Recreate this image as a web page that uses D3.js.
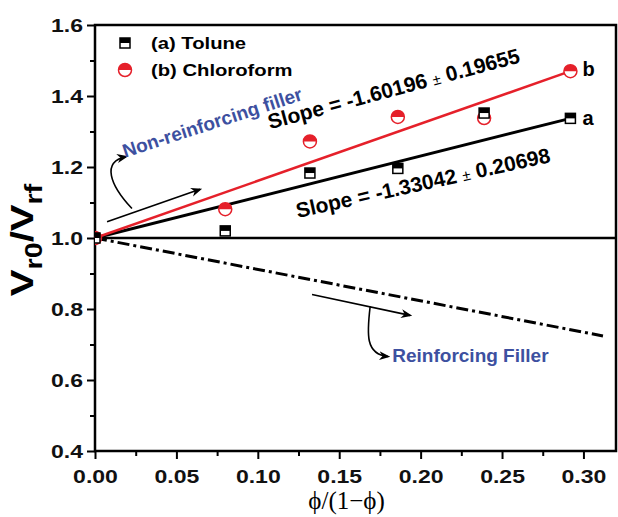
<!DOCTYPE html>
<html lang="en">
<head>
<meta charset="UTF-8">
<title>Vr0/Vrf vs phi/(1-phi)</title>
<script src="https://cdnjs.cloudflare.com/ajax/libs/d3/7.8.5/d3.min.js"></script>
<style>
    body { margin: 0; background: #fff; }
    svg { display: block; }
    .tick line { stroke: #000; stroke-width: 2px; }
</style>
</head>
<body>
<div id="chart"></div>
<script>
    // measured values
    const phi = [0, 0.080, 0.132, 0.186, 0.239, 0.292];
    const toluneRatio = [1.0, 1.02, 1.183, 1.196, 1.352, 1.337];
    const chloroformRatio = [1.0, 1.081, 1.272, 1.341, 1.338, 1.47];
    const fitPhi = [0, 0.292];
    const fitTolune = [1.0, 1.337];
    const fitChloroform = [1.0, 1.47];
    const refPhi = [0, 0.312];
    const refRatio = [1.0, 0.724];
    const xMajor = [0, 0.05, 0.10, 0.15, 0.20, 0.25, 0.30];
    const xMinor = [0.025, 0.075, 0.125, 0.175, 0.225, 0.275];
    const yMajor = [0.4, 0.6, 0.8, 1.0, 1.2, 1.4, 1.6];
    const yMinor = [0.5, 0.7, 0.9, 1.1, 1.3, 1.5];

    const W = 618, H = 517;
    const margin = { top: 25, right: 2, bottom: 66, left: 95 };
    const red = "#e5202a", blue = "#3d50a0";
    const sans = "'Liberation Sans', Arial, sans-serif";

    const svg = d3.select("#chart").append("svg")
        .attr("width", W).attr("height", H);

    const x = d3.scaleLinear().domain([0, 0.32]).range([margin.left, W - margin.right]);
    const y = d3.scaleLinear().domain([0.4, 1.6]).range([H - margin.bottom, margin.top]);

    // axes with minor ticks
    const xAxis = svg.append("g").attr("transform", `translate(0,${y(0.4)})`)
        .call(d3.axisBottom(x).tickValues(xMajor).tickSize(8).tickPadding(12).tickFormat(d3.format(".2f")));
    svg.append("g").attr("transform", `translate(0,${y(0.4)})`)
        .call(d3.axisBottom(x).tickValues(xMinor).tickSize(5).tickFormat(""));
    const yAxis = svg.append("g").attr("transform", `translate(${x(0)},0)`)
        .call(d3.axisLeft(y).tickValues(yMajor).tickSize(8).tickFormat(d3.format(".1f")));
    svg.append("g").attr("transform", `translate(${x(0)},0)`)
        .call(d3.axisLeft(y).tickValues(yMinor).tickSize(5).tickFormat(""));
    svg.selectAll(".domain").remove();

    svg.selectAll(".tick text")
        .attr("font-family", sans).attr("font-weight", "bold")
        .attr("font-size", 18).attr("fill", "#111");
    xAxis.selectAll(".tick text").attr("y", 19).attr("transform", "scale(1.28,1)");
    yAxis.selectAll(".tick text").attr("x", -12 / 1.28).attr("dy", "0.35em").attr("transform", "scale(1.28,1)");

    // frame and the 1.0 line
    svg.append("rect")
        .attr("x", x(0)).attr("y", y(1.6))
        .attr("width", x(0.32) - x(0)).attr("height", y(0.4) - y(1.6))
        .attr("fill", "none").attr("stroke", "#000").attr("stroke-width", 2.5);
    svg.append("line")
        .attr("x1", x(0)).attr("x2", x(0.32)).attr("y1", y(1.0)).attr("y2", y(1.0))
        .attr("stroke", "#000").attr("stroke-width", 2.5);

    svg.append("clipPath").attr("id", "plot")
        .append("rect")
        .attr("x", x(0)).attr("y", y(1.6))
        .attr("width", x(0.32) - x(0)).attr("height", y(0.4) - y(1.6));

    const line = d3.line().x(d => x(d[0])).y(d => y(d[1]));

    // reference dash-dot line
    svg.append("path")
        .attr("d", line(d3.zip(refPhi, refRatio)))
        .attr("fill", "none").attr("stroke", "#000").attr("stroke-width", 3)
        .attr("stroke-dasharray", "12,4,3,4");

    // fit lines
    svg.append("path")
        .attr("d", line(d3.zip(fitPhi, fitTolune)))
        .attr("fill", "none").attr("stroke", "#000").attr("stroke-width", 3);
    svg.append("path")
        .attr("d", line(d3.zip(fitPhi, fitChloroform)))
        .attr("fill", "none").attr("stroke", red).attr("stroke-width", 2.5);

    // half filled markers
    function square(g, cx, cy) {
        g.append("rect").attr("x", cx - 5).attr("y", cy - 5).attr("width", 10).attr("height", 10)
            .attr("fill", "#fff").attr("stroke", "#000").attr("stroke-width", 1.5);
        g.append("rect").attr("x", cx - 5).attr("y", cy - 5).attr("width", 10).attr("height", 5)
            .attr("fill", "#000");
    }
    function circle(g, cx, cy) {
        const r = 6.5;
        g.append("circle").attr("cx", cx).attr("cy", cy).attr("r", r)
            .attr("fill", "#fff").attr("stroke", red).attr("stroke-width", 1.5);
        g.append("path")
            .attr("d", `M${cx - r},${cy} A${r},${r} 0 0 1 ${cx + r},${cy} Z`)
            .attr("fill", red);
    }

    const marks = svg.append("g").attr("clip-path", "url(#plot)");
    phi.forEach((p, i) => circle(marks, x(p), y(chloroformRatio[i])));
    phi.forEach((p, i) => square(marks, x(p), y(toluneRatio[i])));

    // legend
    square(svg, 125, 43);
    circle(svg, 125, 70);
    svg.append("text").attr("transform", "translate(151,49) scale(1.19,1)")
        .attr("font-family", sans).attr("font-weight", "bold").attr("font-size", 17)
        .text("(a) Tolune");
    svg.append("text").attr("transform", "translate(151,76) scale(1.19,1)")
        .attr("font-family", sans).attr("font-weight", "bold").attr("font-size", 17)
        .text("(b) Chloroform");

    // series labels
    svg.append("text").attr("x", x(0.2995)).attr("y", y(1.457))
        .attr("font-family", sans).attr("font-weight", "bold").attr("font-size", 20).text("b");
    svg.append("text").attr("x", x(0.2995)).attr("y", y(1.318))
        .attr("font-family", sans).attr("font-weight", "bold").attr("font-size", 20).text("a");

    // slope annotations
    function slopeText(px, py, angle, main, err) {
        const t = svg.append("text")
            .attr("transform", `translate(${x(px)},${y(py)}) rotate(${angle})`)
            .attr("font-family", sans).attr("font-weight", "bold").attr("font-size", 21);
        t.append("tspan").text(main + " ");
        t.append("tspan").attr("font-weight", "normal").attr("font-size", 15).text("\u00b1");
        t.append("tspan").text(" " + err);
    }
    slopeText(0.1075, 1.306, -15, "Slope = -1.60196", "0.19655");
    slopeText(0.1245, 1.056, -12.5, "Slope = -1.33042", "0.20698");

    // arrows
    const defs = svg.append("defs");
    defs.append("marker").attr("id", "head")
        .attr("viewBox", "0 0 10 10").attr("refX", 8).attr("refY", 5)
        .attr("markerWidth", 7).attr("markerHeight", 7).attr("orient", "auto")
        .append("path").attr("d", "M0,1 L10,5 L0,9 L3,5 Z").attr("fill", "#000");

    function arrow(d) {
        svg.append("path").attr("d", d)
            .attr("fill", "none").attr("stroke", "#000").attr("stroke-width", 1.6)
            .attr("marker-end", "url(#head)");
    }
    arrow(`M${x(0.0074)},${y(1.046)} L${x(0.0645)},${y(1.137)}`);
    arrow(`M${x(0.0227)},${y(1.083)} C${x(0.009)},${y(1.15)} ${x(0.004)},${y(1.215)} ${x(0.019)},${y(1.229)}`);
    arrow(`M${x(0.1333)},${y(0.841)} L${x(0.1935)},${y(0.782)}`);
    arrow(`M${x(0.169)},${y(0.807)} C${x(0.167)},${y(0.73)} ${x(0.166)},${y(0.672)} ${x(0.18)},${y(0.666)}`);

    svg.append("text")
        .attr("transform", `translate(${x(0.0184)},${y(1.226)}) rotate(-18)`)
        .attr("font-family", sans).attr("font-weight", "bold").attr("font-size", 19)
        .attr("fill", blue).text("Non-reinforcing filler");
    svg.append("text")
        .attr("x", x(0.1826)).attr("y", y(0.652))
        .attr("font-family", sans).attr("font-weight", "bold").attr("font-size", 19)
        .attr("fill", blue).text("Reinforcing Filler");

    // axis titles
    const yt = svg.append("text")
        .attr("transform", `translate(33,240) rotate(-90) scale(1.25,1)`)
        .attr("text-anchor", "middle")
        .attr("font-family", sans).attr("font-weight", "bold").attr("font-size", 32);
    yt.append("tspan").text("V");
    yt.append("tspan").attr("font-size", 23).attr("dy", 9).text("r0");
    yt.append("tspan").attr("dy", -9).text("/V");
    yt.append("tspan").attr("font-size", 23).attr("dy", 9).text("rf");

    svg.append("text")
        .attr("x", x(0.1545)).attr("y", 509)
        .attr("text-anchor", "middle")
        .attr("font-family", "'Liberation Serif', 'Times New Roman', serif").attr("font-size", 25)
        .text("\u03d5/(1\u2212\u03d5)");
</script>
</body>
</html>
